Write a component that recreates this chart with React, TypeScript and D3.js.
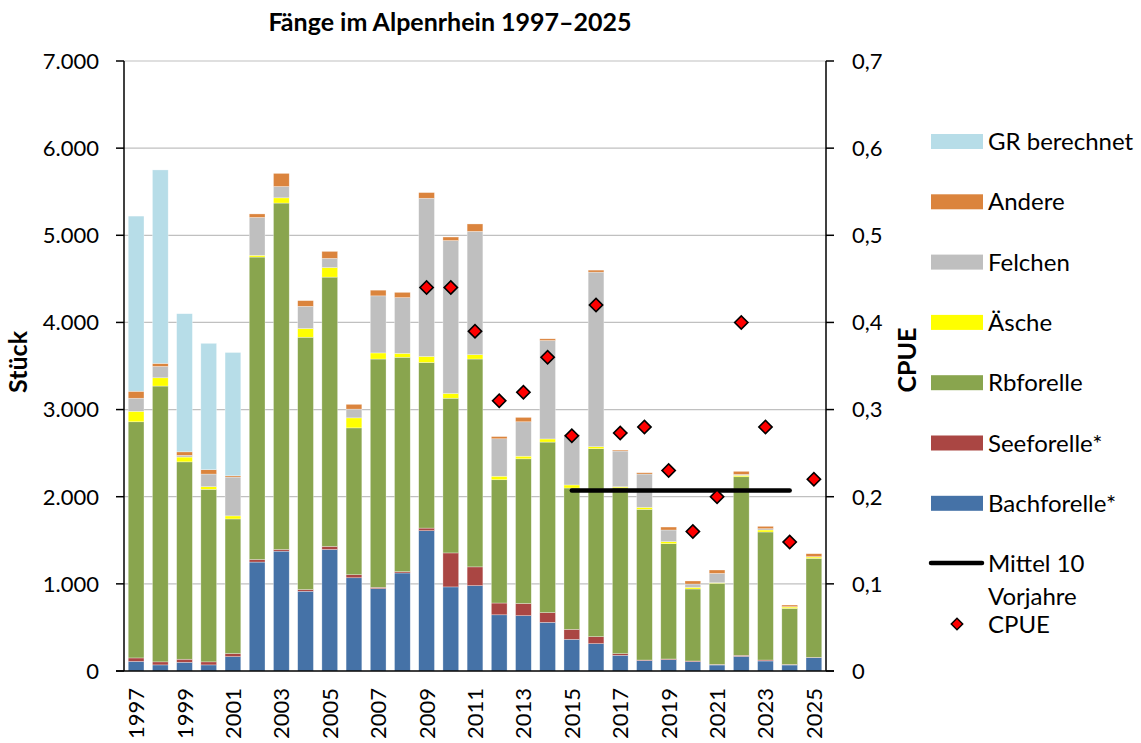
import React from "react";
import * as d3 from "d3";

const years = d3.range(1997, 2026).map(String);

// Stück per species, 1997–2025
const bachforelle = [110, 70, 100, 70, 165, 1250, 1375, 915, 1395, 1070, 945, 1125, 1610, 965, 980, 645, 635, 558, 363, 314, 180, 119, 130, 107, 69, 168, 115, 69, 153];
const seeforelle = [40, 35, 35, 35, 35, 30, 20, 20, 35, 35, 15, 15, 30, 390, 215, 135, 140, 112, 115, 80, 19, 7, 8, 8, 7, 12, 11, 7, 4];
const rbforelle = [2710, 3165, 2265, 1980, 1545, 3470, 3975, 2895, 3090, 1685, 2620, 2460, 1900, 1775, 2385, 1415, 1660, 1957, 1622, 2157, 1904, 1729, 1323, 826, 930, 2049, 1469, 643, 1136];
const aesche = [120, 95, 55, 30, 35, 20, 60, 100, 110, 115, 70, 45, 70, 55, 50, 40, 30, 36, 35, 23, 12, 23, 23, 19, 7, 16, 23, 15, 15];
const felchen = [150, 130, 20, 145, 445, 435, 130, 255, 105, 100, 655, 640, 1815, 1755, 1415, 430, 395, 1130, 565, 2003, 409, 382, 134, 38, 107, 11, 15, 4, 4];
const andere = [80, 35, 40, 50, 15, 40, 150, 65, 80, 55, 65, 60, 65, 40, 85, 25, 50, 19, 10, 23, 11, 15, 34, 35, 39, 35, 27, 19, 34];
const grBerechnet = [2010, 2220, 1585, 1450, 1415, 0, 0, 0, 0, 0, 0, 0, 0, 0, 0, 0, 0, 0, 0, 0, 0, 0, 0, 0, 0, 0, 0, 0, 0];

const cpue = [null, null, null, null, null, null, null, null, null, null, null, null, 0.44, 0.44, 0.39, 0.31, 0.32, 0.36, 0.27, 0.42, 0.273, 0.28, 0.23, 0.16, 0.2, 0.4, 0.28, 0.148, 0.22];
const mittelYears = d3.range(2015, 2025).map(String);
const mittelWert = 0.207;

const seriesNames = ["Bachforelle*", "Seeforelle*", "Rbforelle", "Äsche", "Felchen", "Andere", "GR berechnet"];
const seriesValues = [bachforelle, seeforelle, rbforelle, aesche, felchen, andere, grBerechnet];
const colors = ["#4572a7", "#aa4643", "#89a54e", "#ffff00", "#bfbfbf", "#db843d", "#b7dde8"];

const leftTicks = [0, 1000, 2000, 3000, 4000, 5000, 6000, 7000];
const rightTicks = [0, 0.1, 0.2, 0.3, 0.4, 0.5, 0.6, 0.7];

const W = 1141;
const H = 743;
const m = { left: 124, right: 826, top: 61, bottom: 671 };
const font = "Lato, 'Open Sans', sans-serif";

const fmtLeft = (d: number) => (d === 0 ? "0" : d3.format(",")(d).replace(/,/g, "."));
const fmtRight = (d: number) => (d === 0 ? "0" : d3.format(".1f")(d).replace(".", ","));

export default function App() {
  const x = d3.scaleBand<string>().domain(years).range([m.left, m.right]).paddingInner(0.35).paddingOuter(0.175);
  const y = d3.scaleLinear().domain([0, 7000]).range([m.bottom, m.top]);
  const y2 = d3.scaleLinear().domain([0, 0.7]).range([m.bottom, m.top]);

  const table = years.map((yr, i) => {
    const row: any = { year: yr };
    seriesNames.forEach((s, k) => (row[s] = seriesValues[k][i]));
    return row;
  });
  const stacked = d3.stack<any>().keys(seriesNames)(table);

  const diamond = d3.symbol().type(d3.symbolSquare).size(88)();
  const diamondSmall = d3.symbol().type(d3.symbolSquare).size(66)();
  const mittelLine = d3
    .line<string>()
    .x((d) => x(d)! + x.bandwidth() / 2)
    .y(() => y2(mittelWert));

  const legend = [...seriesNames].reverse();
  const legColors = [...colors].reverse();

  return (
    <svg width={W} height={H} style={{ position: "absolute", left: 0, top: 0, background: "#fff" }} fontFamily={font}>
      <text x={450} y={31} textAnchor="middle" fontSize={25} fontWeight="bold">
        Fänge im Alpenrhein 1997–2025
      </text>

      {/* gridlines */}
      {leftTicks.slice(1).map((t) => (
        <line key={t} x1={m.left} x2={m.right} y1={y(t)} y2={y(t)} stroke="#c0c0c0" strokeWidth={1.2} />
      ))}

      {/* stacked bars */}
      {stacked.map((layer, k) => (
        <g key={layer.key} fill={colors[k]}>
          {layer.map((d, i) =>
            d[1] - d[0] > 0 ? (
              <rect
                key={i}
                x={x(years[i])}
                width={x.bandwidth()}
                y={y(d[1])}
                height={y(d[0]) - y(d[1])}
                stroke="#ffffff"
                strokeOpacity={0.5}
                strokeWidth={0.6}
              />
            ) : null
          )}
        </g>
      ))}

      {/* mean of previous 10 years */}
      <path d={mittelLine(mittelYears) || ""} fill="none" stroke="#000" strokeWidth={4.5} strokeLinecap="round" />

      {/* CPUE */}
      {cpue.map((v, i) =>
        v == null ? null : (
          <path
            key={i}
            d={diamond}
            transform={`translate(${x(years[i])! + x.bandwidth() / 2},${y2(v)}) rotate(45)`}
            fill="#ff0000"
            stroke="#000"
            strokeWidth={1.6}
          />
        )
      )}

      {/* axes */}
      <line x1={m.left} x2={m.left} y1={m.top} y2={m.bottom} stroke="#000" strokeWidth={1.5} />
      <line x1={m.right} x2={m.right} y1={m.top} y2={m.bottom} stroke="#000" strokeWidth={1.5} />
      <line x1={m.left - 8} x2={m.right + 8} y1={m.bottom} y2={m.bottom} stroke="#000" strokeWidth={1.5} />
      {leftTicks.map((t) => (
        <g key={t}>
          <line x1={m.left - 8} x2={m.left} y1={y(t)} y2={y(t)} stroke="#000" strokeWidth={1.5} />
          <text x={m.left - 25} y={y(t)} dy="0.36em" textAnchor="end" fontSize={22}>
            {fmtLeft(t)}
          </text>
        </g>
      ))}
      {rightTicks.map((t) => (
        <g key={t}>
          <line x1={m.right} x2={m.right + 8} y1={y2(t)} y2={y2(t)} stroke="#000" strokeWidth={1.5} />
          <text x={m.right + 26} y={y2(t)} dy="0.36em" textAnchor="start" fontSize={22}>
            {fmtRight(t)}
          </text>
        </g>
      ))}
      {years
        .filter((_, i) => i % 2 === 0)
        .map((yr) => (
          <text
            key={yr}
            transform={`translate(${x(yr)! + x.bandwidth() / 2 + 8},688) rotate(-90)`}
            textAnchor="end"
            fontSize={22}
          >
            {yr}
          </text>
        ))}

      <text transform="translate(27,362) rotate(-90)" textAnchor="middle" fontSize={25} fontWeight="bold">
        Stück
      </text>
      <text transform="translate(916,360) rotate(-90)" textAnchor="middle" fontSize={25} fontWeight="bold">
        CPUE
      </text>

      {/* legend */}
      {legend.map((s, i) => {
        const cy = 141.5 + i * 60.3;
        return (
          <g key={s}>
            <rect x={931} y={cy - 7.5} width={52} height={15} fill={legColors[i]} />
            <text x={988} y={cy} dy="0.36em" fontSize={24}>
              {s}
            </text>
          </g>
        );
      })}
      <line x1={931} x2={982} y1={563} y2={563} stroke="#000" strokeWidth={4.5} strokeLinecap="round" />
      <text x={988} y={563} dy="0.36em" fontSize={24}>
        Mittel 10
      </text>
      <text x={988} y={596} dy="0.36em" fontSize={24}>
        Vorjahre
      </text>
      <path d={diamondSmall} transform="translate(957,624) rotate(45)" fill="#ff0000" stroke="#000" strokeWidth={1.4} />
      <text x={988} y={624} dy="0.36em" fontSize={24}>
        CPUE
      </text>
    </svg>
  );
}
